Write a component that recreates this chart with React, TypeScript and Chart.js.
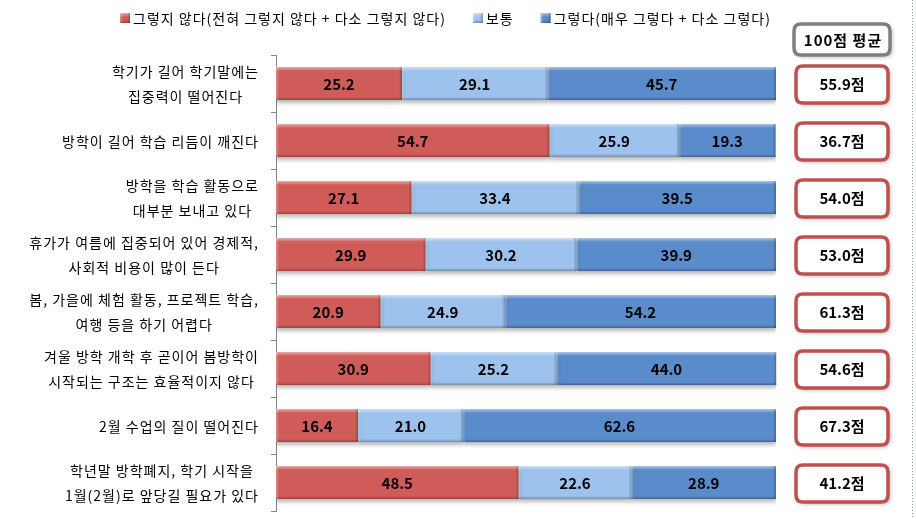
import React, { useEffect, useRef } from 'react';
import { Chart, registerables } from 'chart.js';

Chart.register(...registerables);

const categories: string[][] = [
  ['학기가 길어 학기말에는', '집중력이 떨어진다'],
  ['방학이 길어 학습 리듬이 깨진다'],
  ['방학을 학습 활동으로', '대부분 보내고 있다'],
  ['휴가가 여름에 집중되어 있어 경제적,', '사회적 비용이 많이 든다'],
  ['봄, 가을에 체험 활동, 프로젝트 학습,', '여행 등을 하기 어렵다'],
  ['겨울 방학 개학 후 곧이어 봄방학이', '시작되는 구조는 효율적이지 않다'],
  ['2월 수업의 질이 떨어진다'],
  ['학년말 방학폐지, 학기 시작을', '1월(2월)로 앞당길 필요가 있다'],
];
const disagree = [25.2, 54.7, 27.1, 29.9, 20.9, 30.9, 16.4, 48.5];
const neutral = [29.1, 25.9, 33.4, 30.2, 24.9, 25.2, 21.0, 22.6];
const agree = [45.7, 19.3, 39.5, 39.9, 54.2, 44.0, 62.6, 28.9];
const averages = [55.9, 36.7, 54.0, 53.0, 61.3, 54.6, 67.3, 41.2];
const seriesNames = [
  '그렇지 않다(전혀 그렇지 않다 + 다소 그렇지 않다)',
  '보통',
  '그렇다(매우 그렇다 + 다소 그렇다)',
];
const averageTitle = '100점 평균';
const averageUnit = '점';

const COLORS = ['#D05C59', '#9DC2EE', '#5A8BCB'];
const KR = '"Noto Sans CJK KR", "Noto Sans", sans-serif';

function roundRect(ctx: CanvasRenderingContext2D, x: number, y: number, w: number, h: number, r: number) {
  ctx.beginPath();
  ctx.moveTo(x + r, y);
  ctx.lineTo(x + w - r, y);
  ctx.quadraticCurveTo(x + w, y, x + w, y + r);
  ctx.lineTo(x + w, y + h - r);
  ctx.quadraticCurveTo(x + w, y + h, x + w - r, y + h);
  ctx.lineTo(x + r, y + h);
  ctx.quadraticCurveTo(x, y + h, x, y + h - r);
  ctx.lineTo(x, y + r);
  ctx.quadraticCurveTo(x, y, x + r, y);
  ctx.closePath();
}

function bevel(ctx: CanvasRenderingContext2D, l: number, t: number, r: number, b: number) {
  let g = ctx.createLinearGradient(0, t, 0, t + 4);
  g.addColorStop(0, 'rgba(255,255,255,0.5)');
  g.addColorStop(1, 'rgba(255,255,255,0)');
  ctx.fillStyle = g;
  ctx.fillRect(l, t, r - l, 4);
  g = ctx.createLinearGradient(0, b - 3, 0, b);
  g.addColorStop(0, 'rgba(0,0,0,0)');
  g.addColorStop(1, 'rgba(0,0,0,0.28)');
  ctx.fillStyle = g;
  ctx.fillRect(l, b - 3, r - l, 3);
  g = ctx.createLinearGradient(l, 0, l + 3, 0);
  g.addColorStop(0, 'rgba(255,255,255,0.3)');
  g.addColorStop(1, 'rgba(255,255,255,0)');
  ctx.fillStyle = g;
  ctx.fillRect(l, t, 3, b - t);
  g = ctx.createLinearGradient(r - 3, 0, r, 0);
  g.addColorStop(0, 'rgba(0,0,0,0)');
  g.addColorStop(1, 'rgba(0,0,0,0.25)');
  ctx.fillStyle = g;
  ctx.fillRect(r - 3, t, 3, b - t);
}

const decorPlugin = {
  id: 'decor',
  beforeDatasetsDraw(chart: any) {
    const ctx = chart.ctx;
    ctx.save();
    ctx.shadowColor = 'rgba(0,0,0,0.28)';
    ctx.shadowBlur = 4;
    ctx.shadowOffsetY = 3;
  },
  afterDatasetsDraw(chart: any) {
    const ctx: CanvasRenderingContext2D = chart.ctx;
    ctx.restore();
    ctx.save();
    chart.data.datasets.forEach((ds: any, di: number) => {
      const meta = chart.getDatasetMeta(di);
      meta.data.forEach((el: any, i: number) => {
        const p = el.getProps(['x', 'y', 'base', 'height'], true);
        const l = Math.min(p.base, p.x);
        const r = Math.max(p.base, p.x);
        const t = p.y - p.height / 2;
        const b = p.y + p.height / 2;
        bevel(ctx, l, t, r, b);
        ctx.fillStyle = '#000';
        ctx.font = `bold 15px ${KR}`;
        ctx.textAlign = 'center';
        ctx.textBaseline = 'middle';
        ctx.fillText(ds.data[i].toFixed(1), (l + r) / 2, p.y + 1);
      });
    });
    ctx.restore();
  },
  afterDraw(chart: any) {
    const ctx: CanvasRenderingContext2D = chart.ctx;
    const yScale = chart.scales.y;
    const area = chart.chartArea;
    ctx.save();

    // category labels
    ctx.fillStyle = '#000';
    ctx.font = `14px ${KR}`;
    (ctx as any).letterSpacing = '1px';
    ctx.textBaseline = 'middle';
    ctx.textAlign = 'center';
    const rightEdge = area.left - 17;
    categories.forEach((lines, i) => {
      const cy = yScale.getPixelForValue(i);
      const maxW = Math.max(...lines.map((s) => ctx.measureText(s).width));
      const cx = rightEdge - maxW / 2;
      const lh = 25;
      const start = cy + 1 - ((lines.length - 1) * lh) / 2;
      lines.forEach((s, k) => ctx.fillText(s, cx, start + k * lh));
    });

    // legend
    let lx = 120;
    const ly = 18;
    ctx.textAlign = 'left';
    ctx.font = `14px ${KR}`;
    seriesNames.forEach((name, i) => {
      ctx.fillStyle = COLORS[i];
      ctx.fillRect(lx, ly - 5, 10, 10);
      bevel(ctx, lx, ly - 5, lx + 10, ly + 5);
      ctx.fillStyle = '#000';
      ctx.fillText(name, lx + 13, ly + 1);
      lx += 13 + ctx.measureText(name).width + 27;
    });

    // header box
    const bx = area.right + 18;
    const bw = 96;
    ctx.save();
    ctx.shadowColor = 'rgba(0,0,0,0.3)';
    ctx.shadowBlur = 4;
    ctx.shadowOffsetX = 2;
    ctx.shadowOffsetY = 2;
    roundRect(ctx, bx, 24, bw, 31, 7);
    ctx.fillStyle = '#fff';
    ctx.fill();
    ctx.restore();
    roundRect(ctx, bx, 24, bw, 31, 7);
    ctx.lineWidth = 3.5;
    ctx.strokeStyle = '#7F7F7F';
    ctx.stroke();
    ctx.fillStyle = '#000';
    ctx.font = `bold 15px ${KR}`;
    ctx.textAlign = 'center';
    (ctx as any).letterSpacing = '1px';
    ctx.fillText(averageTitle, bx + bw / 2 + 1, 40);
    (ctx as any).letterSpacing = '0px';

    // average boxes
    averages.forEach((v, i) => {
      const cy = yScale.getPixelForValue(i) + 1;
      const h = 37;
      const x = bx + 2;
      const w = bw - 4;
      ctx.save();
      ctx.shadowColor = 'rgba(0,0,0,0.3)';
      ctx.shadowBlur = 4;
      ctx.shadowOffsetX = 2;
      ctx.shadowOffsetY = 2;
      roundRect(ctx, x, cy - h / 2, w, h, 7);
      ctx.fillStyle = '#fff';
      ctx.fill();
      ctx.restore();
      roundRect(ctx, x, cy - h / 2, w, h, 7);
      ctx.lineWidth = 3.5;
      ctx.strokeStyle = '#C0504D';
      ctx.stroke();
      ctx.fillStyle = '#000';
      ctx.font = `bold 15px ${KR}`;
      ctx.fillText(v.toFixed(1) + averageUnit, x + w / 2, cy);
    });

    // dotted frame line on the right
    ctx.beginPath();
    ctx.setLineDash([1, 2]);
    ctx.strokeStyle = '#7F9AC6';
    ctx.lineWidth = 1;
    ctx.moveTo(912.5, 0);
    ctx.lineTo(912.5, 519);
    ctx.stroke();
    ctx.restore();
  },
};

export default function App() {
  const ref = useRef<HTMLCanvasElement | null>(null);
  useEffect(() => {
    if (!ref.current) return;
    const chart = new Chart(ref.current, {
      type: 'bar',
      data: {
        labels: categories.map((c) => c.join(' ')),
        datasets: [
          { label: seriesNames[0], data: disagree, backgroundColor: COLORS[0] },
          { label: seriesNames[1], data: neutral, backgroundColor: COLORS[1] },
          { label: seriesNames[2], data: agree, backgroundColor: COLORS[2] },
        ],
      },
      options: {
        indexAxis: 'y',
        animation: false,
        responsive: true,
        maintainAspectRatio: false,
        layout: { padding: { left: 0, right: 140, top: 55, bottom: 8 } },
        datasets: { bar: { barPercentage: 0.58, categoryPercentage: 1, borderWidth: 0 } },
        plugins: { legend: { display: false }, tooltip: { enabled: false } },
        scales: {
          x: { stacked: true, min: 0, max: 100, display: false },
          y: {
            stacked: true,
            offset: true,
            grid: { display: true, drawOnChartArea: false, drawTicks: true, tickLength: 5, color: '#868686', offset: true },
            border: { display: true, color: '#868686' },
            ticks: { display: false },
            afterFit: (s: any) => {
              s.width = 276;
            },
          },
        },
      } as any,
      plugins: [decorPlugin],
    });
    return () => chart.destroy();
  }, []);
  return (
    <div style={{ position: 'absolute', left: 0, top: 0, width: 916, height: 519, background: '#fff' }}>
      <canvas ref={ref} />
    </div>
  );
}
